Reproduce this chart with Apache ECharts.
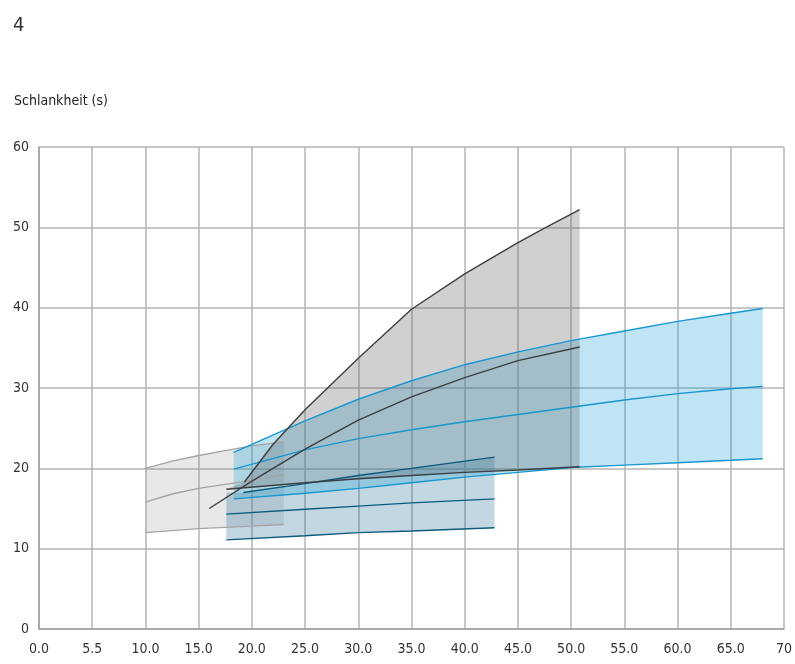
<!DOCTYPE html>
<html>
<head>
<meta charset="utf-8">
<title>Schlankheit</title>
<script src="https://cdn.jsdelivr.net/npm/echarts@6/dist/echarts.min.js"></script>
<style>
  html, body { margin: 0; padding: 0; background: #fff; }
  #chart { width: 795px; height: 664px; }
</style>
</head>
<body>
<div id="chart"></div>
<script>
// Tick labels along the horizontal axis (one per grid line, every 5 units)
const xTickLabels = ['0.0', '5.5', '10.0', '15.0', '20.0', '25.0', '30.0', '35.0',
                     '40.0', '45.0', '50.0', '55.0', '60.0', '65.0', '70'];

// Light grey band
const greyUpper  = [[10, 20.0], [12.5, 20.9], [15, 21.6], [17.5, 22.2], [20, 22.8], [23, 23.3]];
const greyMiddle = [[10, 15.8], [12.5, 16.8], [15, 17.5], [17.5, 18.0], [20, 18.5], [23, 19.2]];
const greyLower  = [[10, 12.0], [15, 12.5], [20, 12.8], [23, 13.0]];

// Dark grey band
const darkUpper  = [[19.3, 18.3], [22, 23.0], [25, 27.3], [30, 33.7], [35, 39.8], [40, 44.2],
                    [45, 48.1], [47.5, 49.9], [50.8, 52.2]];
const darkMiddle = [[16, 15.0], [20, 18.4], [25, 22.4], [30, 26.0], [35, 28.9], [40, 31.3],
                    [45, 33.4], [50.8, 35.1]];
const darkLower  = [[17.6, 17.4], [25, 18.2], [30, 18.7], [35, 19.1], [40, 19.5], [45, 19.8],
                    [50.8, 20.2]];

// Light blue band
const blueUpper  = [[18.3, 22.0], [25, 25.9], [30, 28.6], [35, 30.9], [40, 32.9], [45, 34.5],
                    [50, 35.9], [55, 37.1], [60, 38.3], [65, 39.3], [68, 39.9]];
const blueMiddle = [[18.3, 19.9], [25, 22.3], [30, 23.7], [35, 24.8], [40, 25.8], [45, 26.7],
                    [50, 27.6], [55, 28.5], [60, 29.3], [65, 29.9], [68, 30.2]];
const blueLower  = [[18.3, 16.2], [25, 16.9], [30, 17.5], [35, 18.2], [40, 18.9], [45, 19.5],
                    [50, 20.1], [55, 20.4], [60, 20.7], [65, 21.0], [68, 21.2]];

// Dark blue band (the shaded area starts slightly left of its upper line)
const navyUpper  = [[19.2, 17.0], [25, 18.1], [30, 19.1], [35, 20.0], [42.8, 21.4]];
const navyMiddle = [[17.6, 14.3], [25, 14.9], [30, 15.3], [35, 15.7], [42.8, 16.2]];
const navyLower  = [[17.6, 11.1], [25, 11.6], [30, 12.0], [35, 12.2], [42.8, 12.6]];
const navyFillStart = [[17.6, 17.0]];

const FONT = '"Liberation Sans Narrow", "DejaVu Sans Condensed", "Roboto", sans-serif';

// Filled band between an upper and a lower curve, placed through the axes
function bandSeries(upper, lower, fill, z) {
  return {
    type: 'custom',
    coordinateSystem: 'cartesian2d',
    silent: true,
    z: z,
    data: [[upper[0][0], upper[0][1]]],
    renderItem: function (params, api) {
      const pts = upper.concat(lower.slice().reverse()).map(p => api.coord(p));
      return {
        type: 'polygon',
        shape: { points: pts },
        style: { fill: fill, stroke: null }
      };
    }
  };
}

function lineSeries(data, color, z) {
  return {
    type: 'line',
    data: data,
    showSymbol: false,
    silent: true,
    z: z,
    lineStyle: { color: color, width: 1.4 }
  };
}

const greyLine = '#a4a4a4';
const darkLine = '#3b3f43';
const blueLine = '#1796d2';
const navyLine = '#0d5a7d';

const chart = echarts.init(document.getElementById('chart'));
chart.setOption({
  animation: false,
  backgroundColor: '#ffffff',
  grid: { left: 39, right: 3, top: 147, bottom: 35, containLabel: false },
  graphic: [
    { type: 'text', left: 13, top: 16,
      style: { text: '4', font: '20px ' + FONT, fill: '#333' } },
    { type: 'text', left: 14, top: 94,
      style: { text: 'Schlankheit (s)', font: '14px ' + FONT, fill: '#222' } }
  ],
  xAxis: {
    type: 'value', min: 0, max: 70, interval: 5,
    axisLine: { show: true, lineStyle: { color: '#a0a0a0', width: 1.5 } },
    axisTick: { show: false },
    splitLine: { show: true, lineStyle: { color: '#b4b4b4', width: 1.5 } },
    axisLabel: {
      margin: 13, color: '#333', fontSize: 14, fontFamily: FONT,
      formatter: v => xTickLabels[Math.round(v / 5)]
    }
  },
  yAxis: {
    type: 'value', min: 0, max: 60, interval: 10,
    axisLine: { show: true, lineStyle: { color: '#a0a0a0', width: 1.5 } },
    axisTick: { show: false },
    splitLine: { show: true, lineStyle: { color: '#b4b4b4', width: 1.5 } },
    axisLabel: { margin: 10, color: '#333', fontSize: 14, fontFamily: FONT }
  },
  series: [
    bandSeries(greyUpper, greyLower, 'rgba(140,140,140,0.2)', 1),
    bandSeries(navyFillStart.concat(navyUpper), navyLower, 'rgba(40,110,150,0.28)', 2),
    bandSeries(blueUpper, blueLower, 'rgba(20,160,215,0.27)', 3),
    bandSeries(darkUpper, darkLower, 'rgba(100,100,100,0.3)', 4),
    lineSeries(greyUpper, greyLine, 10),
    lineSeries(greyMiddle, greyLine, 10),
    lineSeries(greyLower, greyLine, 10),
    lineSeries(navyUpper, navyLine, 11),
    lineSeries(navyMiddle, navyLine, 11),
    lineSeries(navyLower, navyLine, 11),
    lineSeries(blueUpper, blueLine, 12),
    lineSeries(blueMiddle, blueLine, 12),
    lineSeries(blueLower, blueLine, 12),
    lineSeries(darkUpper, darkLine, 13),
    lineSeries(darkMiddle, darkLine, 13),
    lineSeries(darkLower, darkLine, 13)
  ]
});
</script>
</body>
</html>
